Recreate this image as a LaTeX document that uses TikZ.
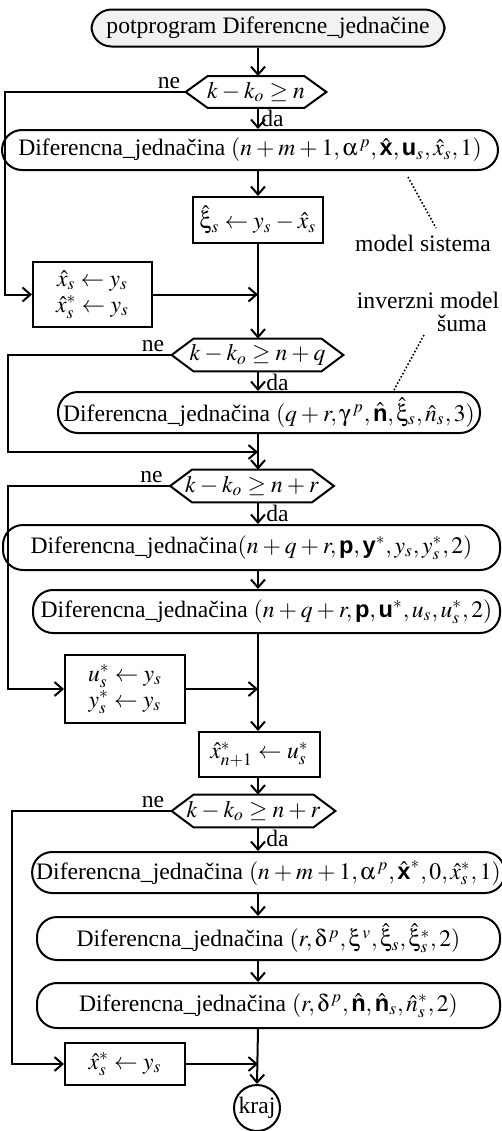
\documentclass[tikz,border=0pt]{standalone}
\usepackage{mathptmx}
\usepackage[Symbol]{upgreek}
\usepackage{fontspec}
\setmainfont{Liberation Serif}
\setsansfont{Liberation Sans}
\usetikzlibrary{arrows.meta,calc}
\newcommand{\myvec}[1]{\textsf{\textbf{#1}}}
\newcommand{\djname}{Diferencna\_jednačina}
\newcommand{\hexdraw}[1]{%
  \draw[line width=1pt] (#1.west) -- ($(#1.north west)+(22,0)$) -- ($(#1.north east)+(-22,0)$) -- (#1.east) -- ($(#1.south east)+(-22,0)$) -- ($(#1.south west)+(22,0)$) -- cycle;}
\medmuskip=3mu plus 1mu minus 1mu
\tikzset{
  every node/.style={font=\fontsize{11.8}{14}\selectfont},
  rbox/.style={draw, line width=1pt, rounded corners=10pt, inner sep=2pt},
  sbox/.style={draw, line width=1pt, inner sep=2pt, align=center},
  hexa/.style={rectangle, inner sep=0pt},
  arr/.style={line width=1pt, -{Straight Barb[length=4pt,width=7pt,line width=1pt]}},
  lab/.style={inner sep=0pt},
  note/.style={line width=0.8pt, densely dotted}
}
\begin{document}
\begin{tikzpicture}[x=0.5pt,y=-0.5pt]
\useasboundingbox (0,0) rectangle (502,1131);
\coordinate (mx) at (258,0);
\coordinate (L1) at (5,0);
\coordinate (L2) at (8,0);
\coordinate (L3) at (8,0);
\coordinate (L4) at (12,0);

\node[rbox, fill=gray!10, minimum width=176.5pt, minimum height=18.5pt] (start) at (268,28) {potprogram Diferencne\_jednačine};
\node[hexa, minimum width=70pt, minimum height=15.5pt] (hex1) at (256,92) {$k-k_o\geq n$};
\node[rbox, minimum width=248pt, minimum height=20pt] (box1) at (250,150) {\djname\ $(n+m+1,\upalpha^{\,p},\hat{\myvec{x}},\myvec{u}_s,\hat{x}_s,1)$};
\node[sbox, minimum width=65pt, minimum height=23pt] (xi) at (258,220) {$\hat{\upxi}_s\leftarrow y_s-\hat{x}_s$};
\node[sbox, minimum width=59.5pt, minimum height=32.5pt] (xs) at (92.5,294.5) {$\hat{x}_s\leftarrow y_s$\\[-1pt]$\hat{x}_s^*\leftarrow y_s$};
\node[hexa, minimum width=85.5pt, minimum height=16pt] (hex2) at (257.5,355) {$k-k_o\geq n+q$};
\node[rbox, minimum width=211pt, minimum height=20.5pt] (box2) at (269,412.5) {\djname\ $(q+r,\upgamma^{\,p},\hat{\myvec{n}},\hat{\upxi}_s,\hat{n}_s,3)$};
\node[hexa, minimum width=81.5pt, minimum height=16pt] (hex3) at (252,486) {$k-k_o\geq n+r$};
\node[rbox, minimum width=248.5pt, minimum height=22.5pt] (box3) at (251.5,547.5) {\djname$(n+q+r,\myvec{p},\myvec{y}^*,y_s,y_s^*,2)$};
\node[rbox, minimum width=233.5pt, minimum height=21.5pt] (box4) at (266.5,611.5) {\djname\ $(n+q+r,\myvec{p},\myvec{u}^*,u_s,u_s^*,2)$};
\node[sbox, minimum width=60pt, minimum height=34pt] (us) at (125,689) {$u_s^*\leftarrow y_s$\\[-1pt]$y_s^*\leftarrow y_s$};
\node[sbox, minimum width=60.5pt, minimum height=22.5pt] (xn) at (259.5,754.5) {$\hat{x}_{n+1}^*\leftarrow u_s^*$};
\node[hexa, minimum width=81.5pt, minimum height=16pt] (hex4) at (253.5,811) {$k-k_o\geq n+r$};
\node[rbox, minimum width=231.5pt, minimum height=20.5pt] (box5) at (268.5,872.5) {\djname\ $(n+m+1,\upalpha^{\,p},\hat{\myvec{x}}^*,0,\hat{x}_s^*,1)$};
\node[rbox, minimum width=231.5pt, minimum height=21.5pt] (box6) at (268.5,938.5) {\djname\ $(r,\updelta^{\,p},\upxi^{\,v},\hat{\upxi}_s,\hat{\upxi}_s^*,2)$};
\node[rbox, minimum width=231.5pt, minimum height=22.5pt] (box7) at (268.5,1005.5) {\djname\ $(r,\updelta^{\,p},\hat{\myvec{n}},\hat{\myvec{n}}_s,\hat{n}_s^*,2)$};
\node[sbox, minimum width=60pt, minimum height=21pt] (xs2) at (125,1064) {$\hat{x}_s^*\leftarrow y_s$};
\node[draw, circle, line width=1pt, minimum size=23pt, inner sep=0pt] (kraj) at (257,1108) {kraj};

\hexdraw{hex1}
\hexdraw{hex2}
\hexdraw{hex3}
\hexdraw{hex4}

% labels
\node[lab, anchor=base east] (ne1) at ($(hex1.west)+(-5,-4)$) {ne};
\node[lab, anchor=base east] (ne2) at ($(hex2.west)+(-7,-4)$) {ne};
\node[lab, anchor=base east] (ne3) at ($(hex3.west)+(-7,-4)$) {ne};
\node[lab, anchor=base east] (ne4) at ($(hex4.west)+(-7,-4)$) {ne};
\node[lab, anchor=north west] (da1) at ($(hex1.south -| mx)+(3,2)$) {da};
\node[lab, anchor=north west] (da2) at ($(hex2.south -| mx)+(8,2)$) {da};
\node[lab, anchor=north west] (da3) at ($(hex3.south -| mx)+(8,2)$) {da};
\node[lab, anchor=north west] (da4) at ($(hex4.south -| mx)+(8,2)$) {da};
\node[lab] (ms) at (423,243) {model sistema};
\node[lab] (im) at (428,300) {inverzni model};
\node[lab] (su) at (462,323) {šuma};
\coordinate (d1a) at (408,177);
\coordinate (d1b) at (436,228);
\coordinate (d2a) at (424,335);
\coordinate (d2b) at (394,390);
\draw[note] (d1a) -- (d1b);
\draw[note] (d2a) -- (d2b);

% main line
\draw[arr] (start.south -| mx) -- (hex1.north -| mx);
\draw[arr] (hex1.south -| mx) -- (box1.north -| mx);
\draw[arr] (box1.south -| mx) -- (xi.north -| mx);
\draw[arr] (xi.south -| mx) -- (hex2.north -| mx);
\draw[arr] (hex2.south -| mx) -- (box2.north -| mx);
\draw[arr] (box2.south -| mx) -- (hex3.north -| mx);
\draw[arr] (hex3.south -| mx) -- (box3.north -| mx);
\draw[arr] (box3.south -| mx) -- (box4.north -| mx);
\draw[arr] (box4.south -| mx) -- (xn.north -| mx);
\draw[arr] (xn.south -| mx) -- (hex4.north -| mx);
\draw[arr] (hex4.south -| mx) -- (box5.north -| mx);
\draw[arr] (box5.south -| mx) -- (box6.north -| mx);
\draw[arr] (box6.south -| mx) -- (box7.north -| mx);
\draw[arr] (box7.south -| mx) -- (kraj.north);

% side branches
\coordinate (m2) at (258,452);
\draw[arr] (hex1.west) -- (hex1.west -| L1) |- (xs.west);
\draw[arr] (xs.east) -- (xs.east -| mx);
\draw[arr] (hex2.west) -- (hex2.west -| L2) |- (m2);
\draw[arr] (hex3.west) -- (hex3.west -| L3) |- (us.west);
\draw[arr] (us.east) -- (us.east -| mx);
\draw[arr] (hex4.west) -- (hex4.west -| L4) |- (xs2.west);
\draw[arr] (xs2.east) -- (xs2.east -| mx);
\end{tikzpicture}
\end{document}
